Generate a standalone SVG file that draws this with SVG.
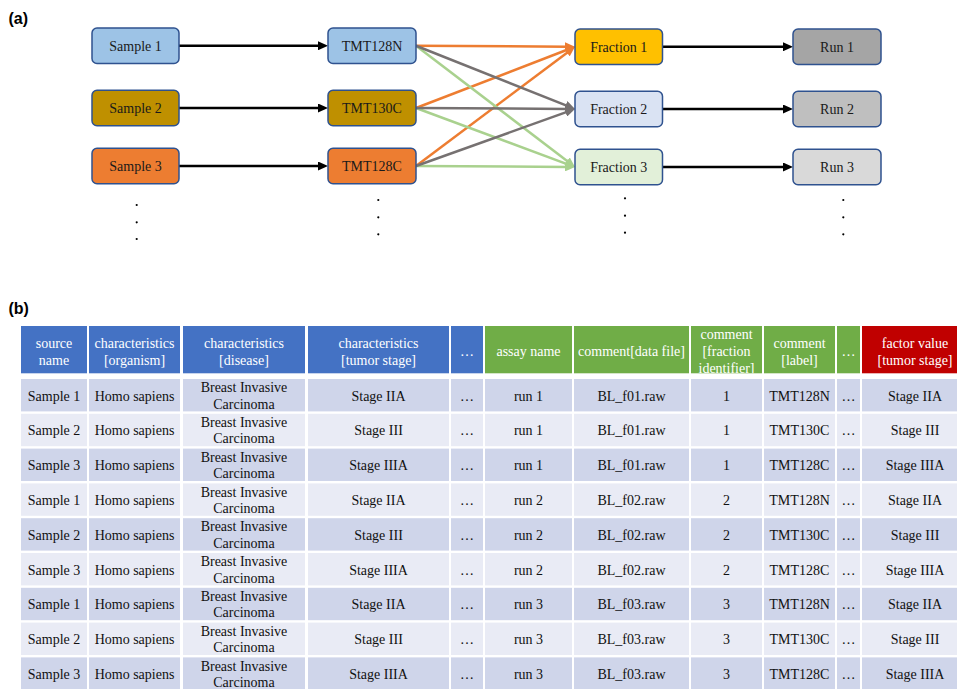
<svg xmlns="http://www.w3.org/2000/svg" xmlns:xlink="http://www.w3.org/1999/xlink" width="957" height="689" viewBox="0 0 957 689">
<style>
.lbl{font-family:"Liberation Sans",Arial,sans-serif;font-weight:bold;font-size:16px;fill:#000}
.node rect{stroke:#2F528F;stroke-width:1.5}
.nt{font-family:"Liberation Serif","Times New Roman",serif;font-size:14px;text-anchor:middle;fill:#1a1a1a}
.tt{font-family:"Liberation Serif","Times New Roman",serif;font-size:14px;text-anchor:middle;fill:#111}
.ht{font-family:"Liberation Serif","Times New Roman",serif;font-size:14px;text-anchor:middle;fill:#fff}
.conn line{stroke-width:2.5;fill:none}
.k{stroke:#000}
.o{stroke:#ED7D31}
.g{stroke:#767171}
.gr{stroke:#A9D18E}
.odd{fill:#CFD5EA}
.even{fill:#E9EBF5}
.dot{fill:#000}
</style>
<defs>
<marker id="ak" markerUnits="userSpaceOnUse" markerWidth="10" markerHeight="9" refX="3" refY="4.5" orient="auto"><path d="M0,0 L10,4.5 L0,9 z" fill="#000"/></marker>
<marker id="ao" markerUnits="userSpaceOnUse" markerWidth="10" markerHeight="9" refX="3" refY="4.5" orient="auto"><path d="M0,0 L10,4.5 L0,9 z" fill="#ED7D31"/></marker>
<marker id="ag" markerUnits="userSpaceOnUse" markerWidth="10" markerHeight="9" refX="3" refY="4.5" orient="auto"><path d="M0,0 L10,4.5 L0,9 z" fill="#767171"/></marker>
<marker id="agr" markerUnits="userSpaceOnUse" markerWidth="10" markerHeight="9" refX="3" refY="4.5" orient="auto"><path d="M0,0 L10,4.5 L0,9 z" fill="#A9D18E"/></marker>
<g id="rowcells">
<rect x="21" y="0" width="66" height="32.4"/>
<rect x="89" y="0" width="91" height="32.4"/>
<rect x="183" y="0" width="122" height="32.4"/>
<rect x="308" y="0" width="141" height="32.4"/>
<rect x="451" y="0" width="32" height="32.4"/>
<rect x="485" y="0" width="87" height="32.4"/>
<rect x="574" y="0" width="115" height="32.4"/>
<rect x="691" y="0" width="71" height="32.4"/>
<rect x="764" y="0" width="71" height="32.4"/>
<rect x="837" y="0" width="23" height="32.4"/>
<rect x="862" y="0" width="95" height="32.4"/>
</g>
<clipPath id="c8clip"><rect x="691" y="326" width="71" height="47.3"/></clipPath>
</defs>
<rect width="957" height="689" fill="#fff"/>
<text class="lbl" x="8.5" y="24">(a)</text>
<text class="lbl" x="8.5" y="314">(b)</text>

<g id="connectors" class="conn">
<line class="k" x1="179" y1="45.75" x2="321" y2="45.75" marker-end="url(#ak)"/>
<line class="k" x1="179" y1="108" x2="321" y2="108" marker-end="url(#ak)"/>
<line class="k" x1="179" y1="166" x2="321" y2="166" marker-end="url(#ak)"/>
<line class="o" x1="416" y1="45.75" x2="568" y2="46.7" marker-end="url(#ao)"/>
<line class="o" x1="416" y1="108" x2="568.47" y2="49.27" marker-end="url(#ao)"/>
<line class="o" x1="416" y1="166" x2="569.4" y2="50.95" marker-end="url(#ao)"/>
<line class="gr" x1="416" y1="45.75" x2="569.43" y2="162.76" marker-end="url(#agr)"/>
<line class="gr" x1="416" y1="108" x2="568.44" y2="164.56" marker-end="url(#agr)"/>
<line class="gr" x1="416" y1="166" x2="568" y2="166.96" marker-end="url(#agr)"/>
<line class="g" x1="416" y1="45.75" x2="568.5" y2="106.41" marker-end="url(#ag)"/>
<line class="g" x1="416" y1="108" x2="568" y2="108.96" marker-end="url(#ag)"/>
<line class="g" x1="416" y1="166" x2="568.41" y2="111.36" marker-end="url(#ag)"/>
<line class="k" x1="662.5" y1="46.75" x2="786" y2="46.75" marker-end="url(#ak)"/>
<line class="k" x1="662.5" y1="109" x2="786" y2="109" marker-end="url(#ak)"/>
<line class="k" x1="662.5" y1="167" x2="786" y2="167" marker-end="url(#ak)"/>
</g>

<g id="sample1" class="node"><rect x="92" y="28" width="87" height="35.5" rx="5" fill="#9DC3E6"/><text class="nt" x="135.5" y="50.8">Sample 1</text></g>
<g id="sample2" class="node"><rect x="92" y="90.25" width="87" height="35.5" rx="5" fill="#BF9000"/><text class="nt" x="135.5" y="113">Sample 2</text></g>
<g id="sample3" class="node"><rect x="92" y="148.25" width="87" height="35.5" rx="5" fill="#ED7D31"/><text class="nt" x="135.5" y="171">Sample 3</text></g>
<g id="tmt128n" class="node"><rect x="328" y="28" width="88" height="35.5" rx="5" fill="#9DC3E6"/><text class="nt" x="372" y="50.8">TMT128N</text></g>
<g id="tmt130c" class="node"><rect x="328" y="90.25" width="88" height="35.5" rx="5" fill="#BF9000"/><text class="nt" x="372" y="113">TMT130C</text></g>
<g id="tmt128c" class="node"><rect x="328" y="148.25" width="88" height="35.5" rx="5" fill="#ED7D31"/><text class="nt" x="372" y="171">TMT128C</text></g>
<g id="fraction1" class="node"><rect x="575" y="29" width="87.5" height="35.5" rx="5" fill="#FFC000"/><text class="nt" x="618.75" y="51.8">Fraction 1</text></g>
<g id="fraction2" class="node"><rect x="575" y="91.25" width="87.5" height="35.5" rx="5" fill="#DAE3F3"/><text class="nt" x="618.75" y="114">Fraction 2</text></g>
<g id="fraction3" class="node"><rect x="575" y="149.25" width="87.5" height="35.5" rx="5" fill="#E2F0D9"/><text class="nt" x="618.75" y="172">Fraction 3</text></g>
<g id="run1" class="node"><rect x="793" y="29" width="88" height="35.5" rx="5" fill="#A5A5A5"/><text class="nt" x="837" y="51.8">Run 1</text></g>
<g id="run2" class="node"><rect x="793" y="91.25" width="88" height="35.5" rx="5" fill="#BFBFBF"/><text class="nt" x="837" y="114">Run 2</text></g>
<g id="run3" class="node"><rect x="793" y="149.25" width="88" height="35.5" rx="5" fill="#D9D9D9"/><text class="nt" x="837" y="172">Run 3</text></g>

<g id="dots">
<circle class="dot" cx="136.7" cy="205" r="1.1"/><circle class="dot" cx="136.7" cy="222.3" r="1.1"/><circle class="dot" cx="136.7" cy="239" r="1.1"/>
<circle class="dot" cx="378.3" cy="200" r="1.1"/><circle class="dot" cx="378.3" cy="217.3" r="1.1"/><circle class="dot" cx="378.3" cy="234.3" r="1.1"/>
<circle class="dot" cx="625" cy="198.3" r="1.1"/><circle class="dot" cx="625" cy="215.7" r="1.1"/><circle class="dot" cx="625" cy="232.7" r="1.1"/>
<circle class="dot" cx="843.3" cy="200" r="1.1"/><circle class="dot" cx="843.3" cy="217.3" r="1.1"/><circle class="dot" cx="843.3" cy="234.3" r="1.1"/>
</g>

<g id="table">
<g id="header">
<rect x="21" y="326" width="66" height="47.3" fill="#4472C4"/>
<rect x="89" y="326" width="91" height="47.3" fill="#4472C4"/>
<rect x="183" y="326" width="122" height="47.3" fill="#4472C4"/>
<rect x="308" y="326" width="141" height="47.3" fill="#4472C4"/>
<rect x="451" y="326" width="32" height="47.3" fill="#4472C4"/>
<rect x="485" y="326" width="87" height="47.3" fill="#70AD47"/>
<rect x="574" y="326" width="115" height="47.3" fill="#70AD47"/>
<rect x="691" y="326" width="71" height="47.3" fill="#70AD47"/>
<rect x="764" y="326" width="71" height="47.3" fill="#70AD47"/>
<rect x="837" y="326" width="23" height="47.3" fill="#70AD47"/>
<rect x="862" y="326" width="95" height="47.3" fill="#C00000"/>
<text class="ht" x="54" y="347.8">source</text><text class="ht" x="54" y="364.8">name</text>
<text class="ht" x="134.5" y="347.8">characteristics</text><text class="ht" x="134.5" y="364.8">[organism]</text>
<text class="ht" x="244" y="347.8">characteristics</text><text class="ht" x="244" y="364.8">[disease]</text>
<text class="ht" x="378.5" y="347.8">characteristics</text><text class="ht" x="378.5" y="364.8">[tumor stage]</text>
<text class="ht" x="467" y="355.5">…</text>
<text class="ht" x="528.5" y="355.5">assay name</text>
<text class="ht" x="631.5" y="355.5">comment[data file]</text>
<g clip-path="url(#c8clip)"><text class="ht" x="726.5" y="338.5">comment</text><text class="ht" x="726.5" y="355.5">[fraction</text><text class="ht" x="726.5" y="372.5">identifier]</text></g>
<text class="ht" x="799.5" y="347.8">comment</text><text class="ht" x="799.5" y="364.8">[label]</text>
<text class="ht" x="848.5" y="355.5">…</text>
<text class="ht" x="915" y="347.8">factor value</text><text class="ht" x="915" y="364.8">[tumor stage]</text>
</g>

<g transform="translate(0,379)"><use xlink:href="#rowcells" class="odd"/>
<text class="tt" x="54" y="21.7">Sample 1</text><text class="tt" x="134.5" y="21.7">Homo sapiens</text><text class="tt" x="244" y="13.2">Breast Invasive</text><text class="tt" x="244" y="29.5">Carcinoma</text><text class="tt" x="378.5" y="21.7">Stage IIA</text><text class="tt" x="467" y="21.7">…</text><text class="tt" x="528.5" y="21.7">run 1</text><text class="tt" x="631.5" y="21.7">BL_f01.raw</text><text class="tt" x="726.5" y="21.7">1</text><text class="tt" x="799.5" y="21.7">TMT128N</text><text class="tt" x="848.5" y="21.7">…</text><text class="tt" x="915" y="21.7">Stage IIA</text></g>
<g transform="translate(0,413.8)"><use xlink:href="#rowcells" class="even"/>
<text class="tt" x="54" y="21.7">Sample 2</text><text class="tt" x="134.5" y="21.7">Homo sapiens</text><text class="tt" x="244" y="13.2">Breast Invasive</text><text class="tt" x="244" y="29.5">Carcinoma</text><text class="tt" x="378.5" y="21.7">Stage III</text><text class="tt" x="467" y="21.7">…</text><text class="tt" x="528.5" y="21.7">run 1</text><text class="tt" x="631.5" y="21.7">BL_f01.raw</text><text class="tt" x="726.5" y="21.7">1</text><text class="tt" x="799.5" y="21.7">TMT130C</text><text class="tt" x="848.5" y="21.7">…</text><text class="tt" x="915" y="21.7">Stage III</text></g>
<g transform="translate(0,448.6)"><use xlink:href="#rowcells" class="odd"/>
<text class="tt" x="54" y="21.7">Sample 3</text><text class="tt" x="134.5" y="21.7">Homo sapiens</text><text class="tt" x="244" y="13.2">Breast Invasive</text><text class="tt" x="244" y="29.5">Carcinoma</text><text class="tt" x="378.5" y="21.7">Stage IIIA</text><text class="tt" x="467" y="21.7">…</text><text class="tt" x="528.5" y="21.7">run 1</text><text class="tt" x="631.5" y="21.7">BL_f01.raw</text><text class="tt" x="726.5" y="21.7">1</text><text class="tt" x="799.5" y="21.7">TMT128C</text><text class="tt" x="848.5" y="21.7">…</text><text class="tt" x="915" y="21.7">Stage IIIA</text></g>
<g transform="translate(0,483.4)"><use xlink:href="#rowcells" class="even"/>
<text class="tt" x="54" y="21.7">Sample 1</text><text class="tt" x="134.5" y="21.7">Homo sapiens</text><text class="tt" x="244" y="13.2">Breast Invasive</text><text class="tt" x="244" y="29.5">Carcinoma</text><text class="tt" x="378.5" y="21.7">Stage IIA</text><text class="tt" x="467" y="21.7">…</text><text class="tt" x="528.5" y="21.7">run 2</text><text class="tt" x="631.5" y="21.7">BL_f02.raw</text><text class="tt" x="726.5" y="21.7">2</text><text class="tt" x="799.5" y="21.7">TMT128N</text><text class="tt" x="848.5" y="21.7">…</text><text class="tt" x="915" y="21.7">Stage IIA</text></g>
<g transform="translate(0,518.2)"><use xlink:href="#rowcells" class="odd"/>
<text class="tt" x="54" y="21.7">Sample 2</text><text class="tt" x="134.5" y="21.7">Homo sapiens</text><text class="tt" x="244" y="13.2">Breast Invasive</text><text class="tt" x="244" y="29.5">Carcinoma</text><text class="tt" x="378.5" y="21.7">Stage III</text><text class="tt" x="467" y="21.7">…</text><text class="tt" x="528.5" y="21.7">run 2</text><text class="tt" x="631.5" y="21.7">BL_f02.raw</text><text class="tt" x="726.5" y="21.7">2</text><text class="tt" x="799.5" y="21.7">TMT130C</text><text class="tt" x="848.5" y="21.7">…</text><text class="tt" x="915" y="21.7">Stage III</text></g>
<g transform="translate(0,553)"><use xlink:href="#rowcells" class="even"/>
<text class="tt" x="54" y="21.7">Sample 3</text><text class="tt" x="134.5" y="21.7">Homo sapiens</text><text class="tt" x="244" y="13.2">Breast Invasive</text><text class="tt" x="244" y="29.5">Carcinoma</text><text class="tt" x="378.5" y="21.7">Stage IIIA</text><text class="tt" x="467" y="21.7">…</text><text class="tt" x="528.5" y="21.7">run 2</text><text class="tt" x="631.5" y="21.7">BL_f02.raw</text><text class="tt" x="726.5" y="21.7">2</text><text class="tt" x="799.5" y="21.7">TMT128C</text><text class="tt" x="848.5" y="21.7">…</text><text class="tt" x="915" y="21.7">Stage IIIA</text></g>
<g transform="translate(0,587.8)"><use xlink:href="#rowcells" class="odd"/>
<text class="tt" x="54" y="21.7">Sample 1</text><text class="tt" x="134.5" y="21.7">Homo sapiens</text><text class="tt" x="244" y="13.2">Breast Invasive</text><text class="tt" x="244" y="29.5">Carcinoma</text><text class="tt" x="378.5" y="21.7">Stage IIA</text><text class="tt" x="467" y="21.7">…</text><text class="tt" x="528.5" y="21.7">run 3</text><text class="tt" x="631.5" y="21.7">BL_f03.raw</text><text class="tt" x="726.5" y="21.7">3</text><text class="tt" x="799.5" y="21.7">TMT128N</text><text class="tt" x="848.5" y="21.7">…</text><text class="tt" x="915" y="21.7">Stage IIA</text></g>
<g transform="translate(0,622.6)"><use xlink:href="#rowcells" class="even"/>
<text class="tt" x="54" y="21.7">Sample 2</text><text class="tt" x="134.5" y="21.7">Homo sapiens</text><text class="tt" x="244" y="13.2">Breast Invasive</text><text class="tt" x="244" y="29.5">Carcinoma</text><text class="tt" x="378.5" y="21.7">Stage III</text><text class="tt" x="467" y="21.7">…</text><text class="tt" x="528.5" y="21.7">run 3</text><text class="tt" x="631.5" y="21.7">BL_f03.raw</text><text class="tt" x="726.5" y="21.7">3</text><text class="tt" x="799.5" y="21.7">TMT130C</text><text class="tt" x="848.5" y="21.7">…</text><text class="tt" x="915" y="21.7">Stage III</text></g>
<g transform="translate(0,657.4)"><use xlink:href="#rowcells" class="odd"/>
<text class="tt" x="54" y="21.7">Sample 3</text><text class="tt" x="134.5" y="21.7">Homo sapiens</text><text class="tt" x="244" y="13.2">Breast Invasive</text><text class="tt" x="244" y="29.5">Carcinoma</text><text class="tt" x="378.5" y="21.7">Stage IIIA</text><text class="tt" x="467" y="21.7">…</text><text class="tt" x="528.5" y="21.7">run 3</text><text class="tt" x="631.5" y="21.7">BL_f03.raw</text><text class="tt" x="726.5" y="21.7">3</text><text class="tt" x="799.5" y="21.7">TMT128C</text><text class="tt" x="848.5" y="21.7">…</text><text class="tt" x="915" y="21.7">Stage IIIA</text></g>
</g>
</svg>
